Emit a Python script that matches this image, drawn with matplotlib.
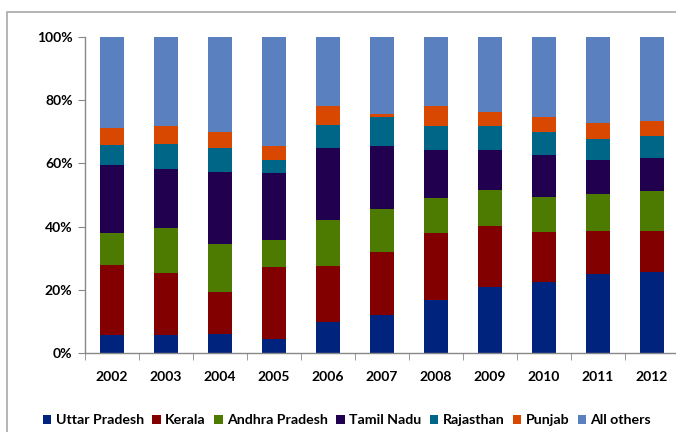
import numpy as np
import matplotlib
matplotlib.use('Agg')
import matplotlib.pyplot as plt
from matplotlib.patches import Rectangle, Patch

plt.rcParams['font.family'] = ['Lato', 'DejaVu Sans']

years = ['2002', '2003', '2004', '2005', '2006', '2007', '2008', '2009', '2010', '2011', '2012']
states = ['Uttar Pradesh', 'Kerala', 'Andhra Pradesh', 'Tamil Nadu', 'Rajasthan', 'Punjab', 'All others']

# shares (%), per year
uttar_pradesh = [5.6, 5.6, 5.9, 4.4, 9.9, 12.1, 16.7, 20.8, 22.4, 25.0, 25.5]
kerala = [22.1, 19.6, 13.3, 22.9, 17.6, 20.0, 21.4, 19.3, 16.0, 13.7, 13.2]
andhra_pradesh = [10.3, 14.3, 15.4, 8.6, 14.6, 13.6, 11.1, 11.6, 11.1, 11.6, 12.7]
tamil_nadu = [21.4, 18.7, 22.8, 21.1, 22.7, 19.7, 15.0, 12.5, 13.1, 10.8, 10.2]
rajasthan = [6.5, 8.0, 7.4, 4.1, 7.4, 9.4, 7.7, 7.7, 7.4, 6.6, 7.0]
punjab = [5.2, 5.7, 5.2, 4.4, 6.1, 0.9, 6.4, 4.3, 4.8, 5.2, 4.8]
all_others = [28.9, 28.1, 30.0, 34.5, 21.7, 24.3, 21.7, 23.8, 25.2, 27.1, 26.6]

colors = ['#00247d', '#820000', '#4d7a00', '#220050', '#006688', '#d94800', '#5b80c0']
series = [uttar_pradesh, kerala, andhra_pradesh, tamil_nadu, rajasthan, punjab, all_others]

fig = plt.figure(figsize=(6.76, 4.32), dpi=100)
# outer chart frame (runs off the right and bottom of the image)
fig.patches.append(Rectangle((7 / 676, -0.1), 1.2, 1.1 - 12 / 432, transform=fig.transFigure,
                             fill=False, edgecolor='#a8a8a8', linewidth=1.2))

ax = fig.add_axes([85 / 676, (432 - 353) / 432, 594 / 676, 316 / 432])

x = np.arange(len(years))
totals = np.sum(series, axis=0)
bottom = np.zeros(len(years))
for name, vals, c in zip(states, series, colors):
    v = np.array(vals) / totals * 100
    ax.bar(x, v, 0.43, bottom=bottom, color=c, label=name, edgecolor='none')
    bottom += v

ax.set_xlim(-0.5, len(years) - 0.5)
ax.set_ylim(0, 100)
ax.set_yticks(np.arange(0, 101, 20))
ax.set_yticklabels(['%d%%' % t for t in range(0, 101, 20)], fontsize=10, fontweight='bold')
ax.set_xticks(x)
ax.set_xticklabels(years, fontsize=10, fontweight='bold')
ax.set_xticks(np.arange(-0.5, len(years)), minor=True)
ax.tick_params(axis='x', which='major', length=0, pad=13)
ax.tick_params(axis='x', which='minor', length=5, color='#888888', direction='out')
ax.tick_params(axis='y', length=5, color='#888888', direction='out', pad=4)
for s in ['top', 'right']:
    ax.spines[s].set_visible(False)
for s in ['left', 'bottom']:
    ax.spines[s].set_color('#888888')
    ax.spines[s].set_linewidth(1.0)

handles = [Patch(facecolor=c, edgecolor='none') for c in colors]
fig.legend(handles, states, loc='center', bbox_to_anchor=(347 / 676, (432 - 420) / 432), ncol=7,
           frameon=False, handlelength=0.6, handleheight=0.6, handletextpad=0.3, columnspacing=0.6,
           prop={'size': 10.2, 'weight': 'bold'})

fig.savefig('out.png', dpi=100)
